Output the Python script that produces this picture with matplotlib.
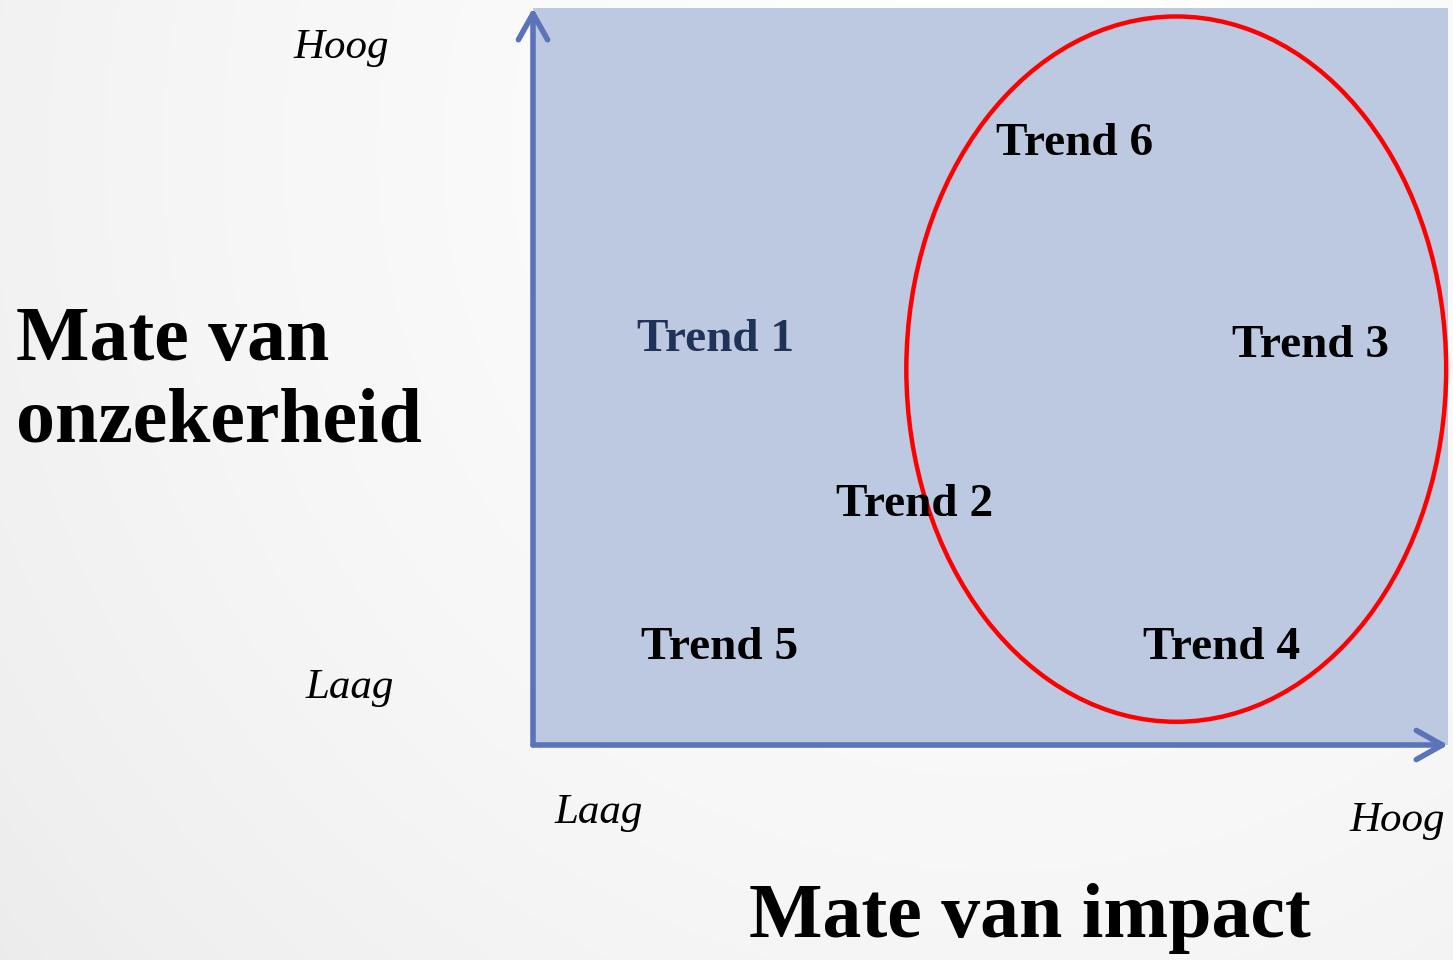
import numpy as np
import matplotlib.pyplot as plt
from matplotlib.patches import Ellipse

# trend positions: (impact, uncertainty) on a 0-10 scale
trends = ["Trend 1", "Trend 2", "Trend 3", "Trend 4", "Trend 5", "Trend 6"]
impact = [1.99, 4.17, 8.50, 7.53, 2.04, 5.92]
uncertainty = [5.49, 3.26, 5.42, 1.31, 1.31, 8.15]
trend_colors = ["#1f3358", "black", "black", "black", "black", "black"]

# highlighted group (ellipse): center, width, height
focus_center = (7.03, 5.10)
focus_size = (5.90, 9.57)

serif = ["Liberation Serif", "DejaVu Serif"]
W, H = 1453, 960
fig = plt.figure(figsize=(W / 100, H / 100), dpi=100)

# background gradient
bg = fig.add_axes([0, 0, 1, 1])
yy, xx = np.mgrid[0:H:4, 0:W:4]
d = np.hypot(xx - 1000, yy - 150) / np.hypot(1000, H - 150)
shade = 1 - 0.15 * np.clip(d, 0, 1) ** 1.3
bg.imshow(shade, cmap="Greys_r", vmin=0, vmax=1, extent=[0, W, H, 0], aspect="auto")
bg.set_xlim(0, W)
bg.set_ylim(H, 0)
bg.axis("off")

# main panel
left, right, top, bottom = 533, 1448, 8, 745
ax = fig.add_axes([left / W, 1 - bottom / H, (right - left) / W, (bottom - top) / H])
ax.set_facecolor("#bdc8e1")
ax.set_xlim(0, 10)
ax.set_ylim(0, 10)
ax.set_xticks([])
ax.set_yticks([])
for s in ax.spines.values():
    s.set_visible(False)

axis_col = "#5b73b9"
arrow = dict(arrowstyle="->,head_length=0.75,head_width=0.42", color=axis_col,
             lw=4, mutation_scale=25, capstyle="round", joinstyle="round",
             shrinkA=0, shrinkB=0)
ax.annotate("", xy=(0, 1.0), xytext=(0, 0), xycoords="axes fraction",
            arrowprops=arrow, annotation_clip=False)
ax.annotate("", xy=(1.0, 0), xytext=(0, 0), xycoords="axes fraction",
            arrowprops=arrow, annotation_clip=False)

ax.add_patch(Ellipse(focus_center, focus_size[0], focus_size[1],
                     fill=False, edgecolor="#ff0000", lw=3.2, clip_on=False))

for name, x, y, c in zip(trends, impact, uncertainty, trend_colors):
    ax.text(x, y, name, ha="center", va="center", fontsize=34,
            fontweight="bold", color=c, family=serif)

# axis labels
fig.text(16 / W, 1 - 382 / H, "Mate van\nonzekerheid", ha="left", va="center",
         fontsize=56, fontweight="bold", family=serif, linespacing=1.2)
fig.text(1030 / W, 1 - 919 / H, "Mate van impact", ha="center", va="center",
         fontsize=56, fontweight="bold", family=serif)
fig.text(341 / W, 1 - 48 / H, "Hoog", ha="center", va="center",
         fontsize=31, style="italic", family=serif)
fig.text(350 / W, 1 - 688 / H, "Laag", ha="center", va="center",
         fontsize=31, style="italic", family=serif)
fig.text(599 / W, 1 - 813 / H, "Laag", ha="center", va="center",
         fontsize=31, style="italic", family=serif)
fig.text(1397 / W, 1 - 821 / H, "Hoog", ha="center", va="center",
         fontsize=31, style="italic", family=serif)

fig.savefig("out.png", dpi=100)
